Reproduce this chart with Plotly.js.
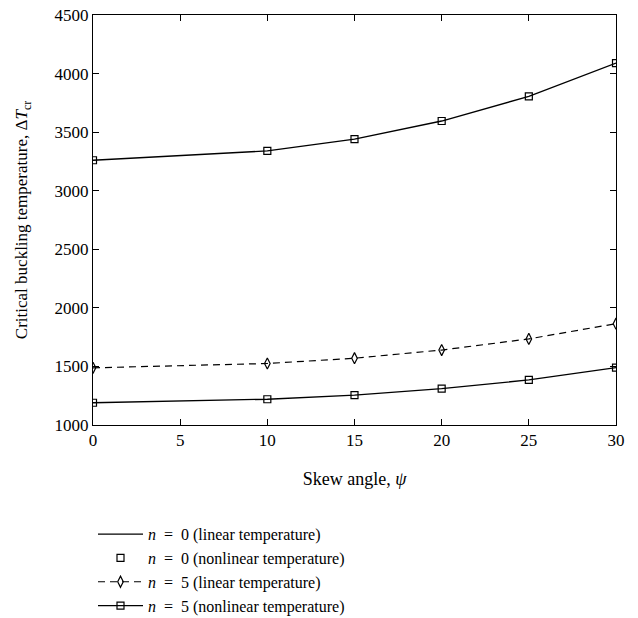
<!DOCTYPE html>
<html>
<head>
<meta charset="utf-8">
<script src="https://cdn.plot.ly/plotly-3.0.1.min.js"></script>
<style>html,body{margin:0;padding:0;background:#fff;}</style>
</head>
<body>
<div id="chart" style="width:638px;height:618px;"></div>
<script>
const skewAngle = [0, 10, 15, 20, 25, 30];
const n0Linear = [3260, 3340, 3440, 3595, 3805, 4090];
const n0Nonlinear = [3260, 3340, 3440, 3595, 3805, 4090];
const n5Linear = [1488, 1525, 1570, 1640, 1735, 1865];
const n5Nonlinear = [1190, 1220, 1255, 1310, 1385, 1490];
const seriesNames = [
  "<i>n</i>\u2002=\u20020 (linear temperature)",
  "<i>n</i>\u2002=\u20020 (nonlinear temperature)",
  "<i>n</i>\u2002=\u20025 (linear temperature)",
  "<i>n</i>\u2002=\u20025 (nonlinear temperature)"
];
const xTicks = [0, 5, 10, 15, 20, 25, 30];
const yTicks = [1000, 1500, 2000, 2500, 3000, 3500, 4000, 4500];

const font = "Liberation Serif, Times New Roman, serif";
const traces = [
  {x: skewAngle, y: n0Linear, name: seriesNames[0], mode: "lines",
   line: {color: "#000", width: 1.3}},
  {x: skewAngle, y: n0Nonlinear, name: seriesNames[1], mode: "markers",
   marker: {symbol: "square-open", size: 7, color: "#000", line: {width: 1.2}}},
  {x: skewAngle, y: n5Linear, name: seriesNames[2], mode: "lines+markers",
   line: {color: "#000", width: 1.2, dash: "7px,5px"},
   marker: {symbol: "diamond-tall-open", size: 8, color: "#000", line: {width: 1.2}}},
  {x: skewAngle, y: n5Nonlinear, name: seriesNames[3], mode: "lines+markers",
   line: {color: "#000", width: 1.3},
   marker: {symbol: "square-open", size: 7, color: "#000", line: {width: 1.2}}}
];

const layout = {
  width: 638, height: 618,
  margin: {l: 93, r: 22, t: 15, b: 193, autoexpand: false},
  paper_bgcolor: "#fff", plot_bgcolor: "#fff",
  font: {family: font, size: 17, color: "#000"},
  showlegend: true,
  legend: {x: 0.0, y: -0.225, xanchor: "left", yanchor: "top",
           font: {family: font, size: 16, color: "#000"},
           tracegroupgap: 0, itemwidth: 45, bgcolor: "rgba(0,0,0,0)"},
  xaxis: {
    range: [0, 30], tickvals: xTicks, ticks: "inside", ticklen: 6,
    tickcolor: "#000", showline: true, linecolor: "#000", linewidth: 1,
    mirror: "ticks", showgrid: false, zeroline: false,
    tickfont: {family: font, size: 17},
    title: {text: "Skew angle, <i>ψ</i>", font: {family: font, size: 18}, standoff: 22}
  },
  yaxis: {
    range: [1000, 4500], tickvals: yTicks, ticks: "inside", ticklen: 6,
    tickcolor: "#000", showline: true, linecolor: "#000", linewidth: 1,
    mirror: "ticks", showgrid: false, zeroline: false,
    tickfont: {family: font, size: 17},
    title: {text: "Critical buckling temperature, Δ<i>T</i><sub>cr</sub>", font: {family: font, size: 17}, standoff: 22}
  }
};

Plotly.newPlot("chart", traces, layout, {displayModeBar: false, staticPlot: true});
</script>
</body>
</html>
